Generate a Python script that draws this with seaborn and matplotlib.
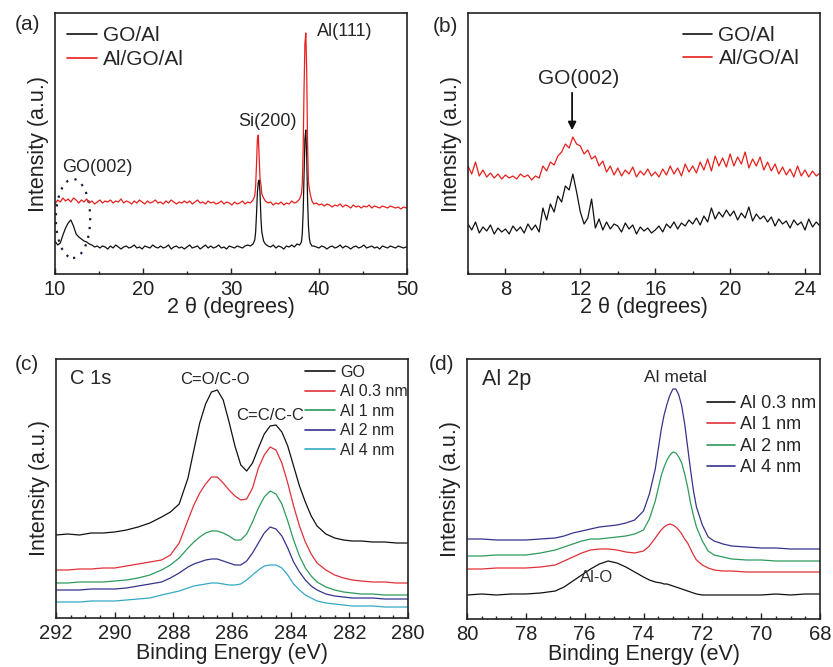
"""
Painel 2x2: XRD (a, b) e XPS C 1s / Al 2p (c, d) de filmes GO/Al.
Valores lidos da figura original (intensidade em unidades arbitrárias).
"""
import matplotlib
matplotlib.use('Agg')
import matplotlib.pyplot as plt
import seaborn as sns
from matplotlib.patches import Ellipse
from matplotlib.ticker import MultipleLocator

# ---------------- (a) XRD, 2 theta 10-50 ----------------
xrd_x = [
    10.0, 10.3, 10.6, 10.9, 11.2, 11.5, 11.8, 12.1, 12.4, 12.7,
    13.0, 13.3, 13.6, 13.9, 14.2, 14.5, 14.8, 15.1, 15.4, 15.7,
    16.0, 16.3, 16.6, 16.9, 17.2, 17.5, 17.8, 18.1, 18.4, 18.7,
    19.0, 19.3, 19.6, 19.9, 20.2, 20.5, 20.8, 21.1, 21.4, 21.7,
    22.0, 22.3, 22.6, 22.9, 23.2, 23.5, 23.8, 24.1, 24.4, 24.7,
    25.0, 25.3, 25.6, 25.9, 26.2, 26.5, 26.8, 27.1, 27.4, 27.7,
    28.0, 28.3, 28.6, 28.9, 29.2, 29.5, 29.8, 30.1, 30.4, 30.7,
    31.0, 31.3, 31.6, 31.9, 32.2, 32.5, 32.7, 32.8, 32.9, 33.0,
    33.1, 33.2, 33.3, 33.4, 33.5, 33.7, 33.9, 34.2, 34.5, 34.8,
    35.1, 35.4, 35.7, 36.0, 36.3, 36.6, 36.9, 37.2, 37.5, 37.8,
    38.0, 38.1, 38.2, 38.3, 38.4, 38.5, 38.6, 38.7, 38.8, 38.9,
    39.0, 39.2, 39.4, 39.7, 40.0, 40.3, 40.6, 40.9, 41.2, 41.5,
    41.8, 42.1, 42.4, 42.7, 43.0, 43.3, 43.6, 43.9, 44.2, 44.5,
    44.8, 45.1, 45.4, 45.7, 46.0, 46.3, 46.6, 46.9, 47.2, 47.5,
    47.8, 48.1, 48.4, 48.7, 49.0, 49.3, 49.6, 49.9, 50.0,
]
xrd_go_al = [
    33, 29, 31, 39, 46, 51, 54, 48, 40, 37,
    35, 33, 32, 30, 29, 27, 28, 26, 28, 27,
    25, 28, 26, 29, 27, 25, 27, 28, 26, 27,
    29, 26, 27, 25, 28, 27, 26, 29, 27, 26,
    28, 26, 27, 29, 25, 27, 28, 26, 27, 25,
    27, 29, 26, 27, 28, 25, 27, 29, 26, 28,
    26, 27, 29, 26, 27, 25, 28, 27, 26, 28,
    27, 26, 28, 29, 28, 30, 34, 42, 60, 82,
    92, 94, 80, 56, 42, 33, 30, 28, 27, 29,
    26, 28, 27, 25, 28, 27, 29, 27, 30, 29,
    32, 40, 62, 100, 135, 144, 118, 75, 48, 36,
    31, 28, 28, 27, 26, 28, 27, 25, 27, 28,
    26, 27, 29, 26, 28, 27, 25, 27, 28, 26,
    27, 29, 26, 27, 28, 26, 27, 25, 28, 27,
    26, 28, 27, 26, 28, 27, 26, 27, 27,
]
xrd_al_go_al = [
    70, 74, 72, 76, 73, 75, 72, 76, 74, 71,
    74, 72, 75, 71, 73, 70, 72, 74, 71, 73,
    72, 74, 71, 73, 72, 75, 71, 73, 72, 70,
    73, 71, 74, 72, 70, 73, 71, 72, 74, 71,
    72, 70, 73, 71, 74, 72, 70, 72, 71, 73,
    71, 73, 70, 72, 74, 71, 72, 70, 73, 71,
    72, 70, 71, 73, 70, 72, 71, 69, 72, 70,
    71, 73, 70, 72, 71, 74, 78, 88, 110, 135,
    139, 118, 95, 90, 80, 76, 73, 71, 72, 69,
    71, 70, 72, 69, 71, 70, 73, 71, 72, 75,
    80, 90, 125, 185, 230, 241, 205, 130, 92, 85,
    80, 73, 70, 71, 69, 70, 68, 70, 69, 67,
    69, 68, 70, 67, 69, 68, 66, 69, 67, 68,
    66, 68, 67, 69, 66, 68, 67, 66, 68, 67,
    66, 68, 67, 66, 67, 65, 67, 66, 67,
]

# ---------------- (b) XRD, detalhe 6-25 ----------------
det_x = [
    6.0, 6.2, 6.4, 6.6, 6.8, 7.0, 7.2, 7.4, 7.6, 7.8,
    8.0, 8.2, 8.4, 8.6, 8.8, 9.0, 9.2, 9.4, 9.6, 9.8,
    10.0, 10.2, 10.4, 10.6, 10.8, 11.0, 11.2, 11.4, 11.6, 11.8,
    12.0, 12.2, 12.4, 12.6, 12.8, 13.0, 13.2, 13.4, 13.6, 13.8,
    14.0, 14.2, 14.4, 14.6, 14.8, 15.0, 15.2, 15.4, 15.6, 15.8,
    16.0, 16.2, 16.4, 16.6, 16.8, 17.0, 17.2, 17.4, 17.6, 17.8,
    18.0, 18.2, 18.4, 18.6, 18.8, 19.0, 19.2, 19.4, 19.6, 19.8,
    20.0, 20.2, 20.4, 20.6, 20.8, 21.0, 21.2, 21.4, 21.6, 21.8,
    22.0, 22.2, 22.4, 22.6, 22.8, 23.0, 23.2, 23.4, 23.6, 23.8,
    24.0, 24.2, 24.4, 24.6, 24.8,
]
det_go_al = [
    50, 44, 52, 41, 47, 43, 49, 40, 46, 42,
    45, 40, 48, 43, 47, 41, 50, 44, 49, 42,
    66, 54, 70, 62, 78, 72, 88, 84, 100, 82,
    62, 50, 56, 75, 46, 55, 44, 52, 45, 50,
    48, 42, 51, 45, 49, 40, 47, 43, 46, 41,
    44, 48, 42, 50, 46, 52, 45, 51, 48, 54,
    50, 56, 49, 58, 52, 66, 55, 62, 57, 64,
    58, 63, 54, 61, 56, 67, 53, 60, 55, 58,
    52, 57, 48, 55, 50, 53, 46, 54, 49, 52,
    44, 55, 47, 52, 48,
]
det_al_go_al = [
    108, 100, 112, 98, 104, 97, 101, 96, 100, 95,
    99, 96, 98, 95, 100, 97, 99, 94, 98, 96,
    108, 103, 112, 109, 118, 122, 130, 126, 137, 130,
    128, 120, 124, 115, 118, 108, 113, 102, 108, 99,
    106, 98, 104, 100, 107, 97, 103, 99, 105, 98,
    102, 97, 105, 99, 108, 100, 106, 98, 110, 102,
    108, 101, 112, 104, 115, 103, 118, 108, 116, 107,
    120, 108, 117, 110, 122, 106, 115, 108, 117, 104,
    112, 103, 110, 100, 107, 99, 105, 97, 108, 98,
    104, 97, 103, 98, 101,
]

# ---------------- (c) XPS C 1s ----------------
c1s_be = [
    292.0, 291.6, 291.2, 290.8, 290.4, 290.0, 289.6, 289.2, 288.8, 288.4,
    288.1, 287.8, 287.5, 287.3, 287.1, 286.9, 286.7, 286.5, 286.3, 286.1,
    285.9, 285.7, 285.5, 285.3, 285.1, 284.9, 284.7, 284.5, 284.3, 284.1,
    283.9, 283.7, 283.5, 283.3, 283.1, 282.8, 282.5, 282.2, 281.9, 281.6,
    281.2, 280.8, 280.4, 280.0,
]
c1s_go = [
    83, 84, 83, 85, 85, 86, 88, 91, 95, 101,
    106, 114, 140, 168, 195, 214, 226, 228, 218, 196,
    172, 153, 147, 155, 170, 184, 192, 193, 186, 172,
    152, 132, 116, 102, 92, 84, 80, 78, 77, 77,
    76, 76, 75, 75,
]
c1s_al03 = [
    48, 48, 49, 49, 50, 50, 52, 54, 56, 58,
    63, 75, 98, 113, 125, 134, 141, 141, 135, 128,
    122, 118, 119, 130, 150, 163, 171, 168, 155, 135,
    112, 92, 76, 64, 55, 48, 43, 40, 38, 37,
    36, 36, 35, 35,
]
c1s_al1 = [
    35, 35, 36, 36, 36, 37, 38, 40, 43, 48,
    53, 60, 70, 76, 81, 85, 87, 87, 85, 82,
    78, 78, 84, 96, 110, 121, 127, 124, 114, 97,
    78, 62, 50, 42, 36, 31, 28, 26, 25, 24,
    24, 23, 23, 23,
]
c1s_al2 = [
    28, 28, 28, 29, 29, 29, 30, 32, 34, 36,
    40, 45, 51, 54, 56, 58, 59, 59, 57, 55,
    53, 53, 57, 65, 75, 85, 91, 89, 82, 70,
    56, 46, 38, 32, 28, 24, 22, 21, 20, 20,
    20, 19, 19, 19,
]
c1s_al4 = [
    16, 16, 16, 17, 17, 17, 18, 19, 20, 23,
    25, 27, 30, 32, 33, 34, 35, 35, 34, 33,
    33, 34, 38, 43, 48, 52, 53, 53, 50, 43,
    34, 28, 23, 20, 17, 15, 14, 13, 12, 12,
    12, 11, 11, 11,
]

# ---------------- (d) XPS Al 2p ----------------
al2p_be = [
    80.0, 79.5, 79.0, 78.5, 78.0, 77.5, 77.0, 76.7, 76.4, 76.1,
    75.8, 75.5, 75.2, 74.9, 74.6, 74.3, 74.0, 73.8, 73.6, 73.4,
    73.3, 73.2, 73.1, 73.0, 72.9, 72.8, 72.7, 72.6, 72.5, 72.4,
    72.3, 72.2, 72.0, 71.8, 71.6, 71.3, 71.0, 70.5, 70.0, 69.5,
    69.0, 68.5, 68.0,
]
al2p_al03 = [
    24, 25, 24, 25, 25, 26, 28, 32, 38, 44,
    50, 55, 58, 56, 52, 47, 42, 39, 37, 36,
    35, 35, 34, 33, 32, 31, 30, 29, 28, 27,
    26, 25, 24, 24, 24, 24, 24, 24, 24, 25,
    24, 25, 25,
]
al2p_al1 = [
    50, 50, 51, 51, 51, 52, 54, 58, 62, 66,
    69, 70, 70, 69, 67, 66, 68, 73, 81, 89,
    92, 94, 95, 94, 92, 89, 85, 80, 76, 70,
    64, 59, 54, 51, 49, 48, 48, 47, 47, 47,
    47, 47, 47,
]
al2p_al2 = [
    63, 63, 64, 64, 64, 66, 69, 72, 75, 78,
    80, 80, 81, 82, 83, 85, 89, 100, 118, 143,
    152, 159, 164, 167, 166, 162, 156, 145, 132, 116,
    103, 92, 78, 68, 64, 62, 60, 59, 59, 58,
    58, 58, 58,
]
al2p_al4 = [
    80, 80, 79, 79, 79, 80, 81, 83, 86, 88,
    90, 92, 93, 94, 96, 99, 108, 125, 150, 189,
    204, 215, 224, 230, 230, 224, 213, 195, 172, 149,
    128, 112, 94, 82, 78, 75, 73, 72, 71, 71,
    70, 70, 70,
]

rotulos_xrd = ['GO/Al', 'Al/GO/Al']
cores_xrd = ['#111111', '#e8201c']
rotulos_c1s = ['GO', 'Al 0.3 nm', 'Al 1 nm', 'Al 2 nm', 'Al 4 nm']
cores_c1s = ['#111111', '#e0303a', '#2e9a5c', '#34348c', '#33a9c4']
rotulos_al2p = ['Al 0.3 nm', 'Al 1 nm', 'Al 2 nm', 'Al 4 nm']
cores_al2p = ['#111111', '#e0303a', '#2e9a5c', '#34348c']

LARGURA, ALTURA = 833, 667


def configurar_estilo():
    sns.set_theme(style='ticks')
    plt.rcParams['font.family'] = ['Liberation Sans', 'DejaVu Sans']
    plt.rcParams['axes.edgecolor'] = '#222222'
    plt.rcParams['axes.linewidth'] = 1.2


def eixo_px(fig, esq, topo, dir_, base):
    # retangulo do eixo a partir de pixels da imagem original
    return fig.add_axes([esq / LARGURA, 1 - base / ALTURA,
                         (dir_ - esq) / LARGURA, (base - topo) / ALTURA])


def desenhar(ax, x, series, rotulos, cores, lw=0.9):
    for y, rot, cor in zip(series, rotulos, cores):
        sns.lineplot(x=x, y=y, ax=ax, color=cor, linewidth=lw, label=rot,
                     estimator=None, sort=False)


def formatar(ax, xlim, ylim, maior, menor, xlabel, labelpad=-1):
    ax.set_xlim(*xlim)
    ax.set_ylim(*ylim)
    ax.xaxis.set_major_locator(MultipleLocator(maior))
    ax.xaxis.set_minor_locator(MultipleLocator(menor))
    ax.set_yticks([])
    ax.tick_params(axis='x', which='major', direction='in', length=4.5, width=1,
                   labelsize=14.5, pad=4, colors='#222222', labelcolor='#222222')
    ax.tick_params(axis='x', which='minor', direction='in', length=2.5, width=1,
                   colors='#222222')
    ax.set_xlabel(xlabel, fontsize=15.5, labelpad=labelpad, color='#222222')
    ax.set_ylabel('Intensity (a.u.)', fontsize=15.5, labelpad=4, color='#222222')


def legenda(ax, ancora, tamanho, handlelength, labelspacing):
    leg = ax.legend(loc='upper left', bbox_to_anchor=ancora, frameon=False,
                    fontsize=tamanho, handlelength=handlelength, handletextpad=0.3,
                    labelspacing=labelspacing, borderpad=0, borderaxespad=0)
    for linha in leg.get_lines():
        linha.set_linewidth(1.2)


def main():
    configurar_estilo()
    fig = plt.figure(figsize=(LARGURA / 100, ALTURA / 100), dpi=100)

    # (a)
    ax = eixo_px(fig, 55, 13, 407, 274)
    desenhar(ax, xrd_x, [xrd_go_al, xrd_al_go_al], rotulos_xrd, cores_xrd)
    formatar(ax, (10, 50), (0, 261), 10, 5, '2 θ (degrees)')
    legenda(ax, (0.034, 0.95), 15, 1.45, 0.25)
    ax.add_patch(Ellipse((12.05, 55.5), 3.9, 79, fill=False, color='#1c1c40',
                         linestyle=(0, (1, 3)), linewidth=1.6))
    ax.text(14.8, 107, 'GO(002)', ha='center', va='center', fontsize=13)
    ax.text(34.1, 152, 'Si(200)', ha='center', va='center', fontsize=13)
    ax.text(42.9, 243, 'Al(111)', ha='center', va='center', fontsize=13)

    # (b)
    ax = eixo_px(fig, 468, 13, 820, 274)
    desenhar(ax, det_x, [det_go_al, det_al_go_al], rotulos_xrd, cores_xrd)
    formatar(ax, (6, 24.8), (0, 261), 4, 2, '2 θ (degrees)')
    legenda(ax, (0.611, 0.95), 15, 1.4, 0.2)
    ax.text(11.92, 196, 'GO(002)', ha='center', va='center', fontsize=15)
    ax.annotate('', xy=(11.56, 141), xytext=(11.56, 184),
                arrowprops=dict(arrowstyle='-|>', color='#111111', lw=1.3,
                                mutation_scale=12))

    # (c)
    ax = eixo_px(fig, 56, 359, 408, 618)
    desenhar(ax, c1s_be, [c1s_go, c1s_al03, c1s_al1, c1s_al2, c1s_al4],
             rotulos_c1s, cores_c1s)
    formatar(ax, (292, 280), (0, 259), 2, 0.5, 'Binding Energy (eV)', labelpad=0)
    legenda(ax, (0.707, 0.977), 11.5, 1.9, 0.28)
    ax.text(291.52, 240, 'C 1s', ha='left', va='center', fontsize=14.5)
    ax.text(286.58, 238, 'C=O/C-O', ha='center', va='center', fontsize=12)
    ax.text(284.7, 203, 'C=C/C-C', ha='center', va='center', fontsize=12)

    # (d)
    ax = eixo_px(fig, 467, 359, 820, 619)
    desenhar(ax, al2p_be, [al2p_al03, al2p_al1, al2p_al2, al2p_al4],
             rotulos_al2p, cores_al2p)
    formatar(ax, (80, 68), (0, 260), 2, 0.5, 'Binding Energy (eV)', labelpad=0)
    legenda(ax, (0.68, 0.862), 13, 1.55, 0.25)
    ax.text(79.49, 239, 'Al 2p', ha='left', va='center', fontsize=15.5)
    ax.text(72.92, 241, 'Al metal', ha='center', va='center', fontsize=12.5)
    ax.text(75.58, 41, 'Al-O', ha='center', va='center', fontsize=12, color='#333333')

    # letras dos paineis
    for letra, (px, py) in zip(['(a)', '(b)', '(c)', '(d)'],
                               [(28, 25), (445, 27), (27, 365), (442, 365)]):
        fig.text(px / LARGURA, 1 - py / ALTURA, letra, ha='center', va='center',
                 fontsize=15)

    fig.savefig('out.png', dpi=100)
    plt.close(fig)


if __name__ == '__main__':
    main()
